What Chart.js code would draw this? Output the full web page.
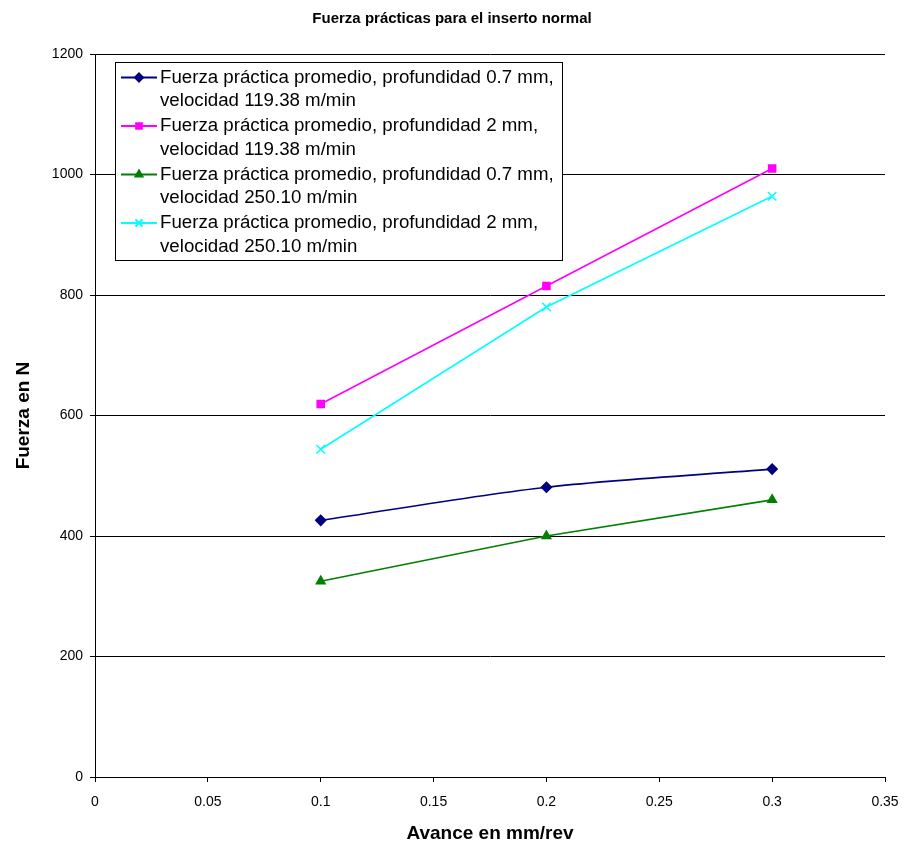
<!DOCTYPE html>
<html>
<head>
<meta charset="utf-8">
<script src="https://cdn.jsdelivr.net/npm/chart.js@4/dist/chart.umd.min.js"></script>
<style>
  html, body { margin: 0; padding: 0; background: #fff; }
  #wrap { width: 904px; height: 847px; }
</style>
</head>
<body>
<div id="wrap"><canvas id="myChart" width="904" height="847"></canvas></div>
<script>
// data
const avance = [0.1, 0.2, 0.3];
const prof07vel119 = [426, 481, 511];
const prof2vel119 = [619, 815, 1010];
const prof07vel250 = [325, 400, 460];
const prof2vel250 = [544, 780, 964];
const seriesNames = [
  ["Fuerza práctica promedio, profundidad 0.7 mm,", "velocidad 119.38 m/min"],
  ["Fuerza práctica promedio, profundidad 2 mm,", "velocidad 119.38 m/min"],
  ["Fuerza práctica promedio, profundidad 0.7 mm,", "velocidad 250.10 m/min"],
  ["Fuerza práctica promedio, profundidad 2 mm,", "velocidad 250.10 m/min"],
];
const xTicks = [0, 0.05, 0.1, 0.15, 0.2, 0.25, 0.3, 0.35];
const yTicks = [0, 200, 400, 600, 800, 1000, 1200];

const FONT = "'Liberation Sans', Arial, sans-serif";
const pts = (ys) => avance.map((x, i) => ({ x: x, y: ys[i] }));

//Legend drawn as a box inside the plot
const boxLegend = {
  id: "boxLegend",
  afterDraw(chart) {
    const ctx = chart.ctx;
    const x0 = 115, y0 = 62, w = 447, h = 198;
    ctx.save();
    ctx.fillStyle = "#fff";
    ctx.fillRect(x0, y0, w, h);
    ctx.strokeStyle = "#000";
    ctx.lineWidth = 1;
    ctx.strokeRect(x0 + 0.5, y0 + 0.5, w, h);
    ctx.font = "18.7px " + FONT;
    ctx.textBaseline = "middle";
    chart.data.datasets.forEach((ds, i) => {
      const yy = y0 + 15.5 + i * 48.5;
      ctx.strokeStyle = ds.borderColor;
      ctx.lineWidth = 2;
      ctx.beginPath();
      ctx.moveTo(x0 + 6, yy);
      ctx.lineTo(x0 + 42, yy);
      ctx.stroke();
      ctx.fillStyle = ds.pointBackgroundColor;
      ctx.strokeStyle = ds.pointBorderColor;
      Chart.helpers.drawPoint(ctx, {
        pointStyle: ds.pointStyle,
        radius: ds.pointRadius - 1,
        borderWidth: ds.pointBorderWidth,
        rotation: 0,
      }, x0 + 24, yy);
      ctx.fillStyle = "#000";
      ctx.fillText(seriesNames[i][0], x0 + 45, yy);
      ctx.fillText(seriesNames[i][1], x0 + 45, yy + 23.5);
    });
    ctx.restore();
  },
};

const mkSet = (ys, color, style, radius, tension) => ({
  data: pts(ys),
  borderColor: color,
  backgroundColor: color,
  pointBackgroundColor: color,
  pointBorderColor: color,
  pointStyle: style,
  pointRadius: radius,
  pointHoverRadius: radius,
  pointBorderWidth: 1.5,
  borderWidth: 1.6,
  tension: tension,
  fill: false,
});

new Chart(document.getElementById("myChart"), {
  type: "line",
  data: {
    datasets: [
      mkSet(prof07vel119, "#000080", "rectRot", 5, 0.3),
      mkSet(prof2vel119, "#ff00ff", "rect", 5, 0),
      mkSet(prof07vel250, "#008000", "triangle", 5, 0),
      mkSet(prof2vel250, "#00ffff", "crossRot", 6, 0),
    ],
  },
  options: {
    responsive: false,
    animation: false,
    layout: { padding: { top: 6, right: 19, left: 19, bottom: 0 } },
    plugins: {
      legend: { display: false },
      tooltip: { enabled: false },
      title: {
        display: true,
        text: "Fuerza prácticas para el inserto normal",
        color: "#000",
        font: { family: FONT, size: 15, weight: "bold" },
        padding: { top: 4, bottom: 26 },
      },
    },
    scales: {
      x: {
        type: "linear",
        min: 0,
        max: 0.35,
        afterBuildTicks: (s) => { s.ticks = xTicks.map((v) => ({ value: v })); },
        afterFit: (s) => { s.height = 70; s.paddingLeft = 0; s.paddingRight = 0; },
        ticks: {
          color: "#000",
          font: { family: FONT, size: 14 },
          padding: 12,
          maxRotation: 0,
          callback: (v) => String(+v.toFixed(2)),
        },
        grid: { drawOnChartArea: false, color: "#000", tickLength: 5 },
        border: { color: "#000", width: 1 },
        title: {
          display: true,
          text: "Avance en mm/rev",
          color: "#000",
          font: { family: FONT, size: 19, weight: "bold" },
          padding: { top: 2, bottom: 2 },
        },
      },
      y: {
        min: 0,
        max: 1200,
        afterBuildTicks: (s) => { s.ticks = yTicks.map((v) => ({ value: v })); },
        afterFit: (s) => { s.width = 76; s.paddingTop = 0; s.paddingBottom = 0; },
        ticks: {
          color: "#000",
          font: { family: FONT, size: 14 },
          padding: 7,
          callback: (v) => String(v),
        },
        grid: { color: "#000", tickLength: 5 },
        border: { color: "#000", width: 1 },
        title: {
          display: true,
          text: "Fuerza en N",
          color: "#000",
          font: { family: FONT, size: 19, weight: "bold" },
          padding: { top: -7, bottom: 0 },
        },
      },
    },
  },
  plugins: [boxLegend],
});
</script>
</body>
</html>
